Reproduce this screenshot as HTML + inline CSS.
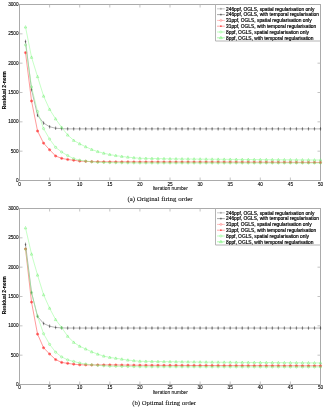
<!DOCTYPE html>
<html><head><meta charset="utf-8"><style>
html,body{margin:0;padding:0;background:#fff;}
body{width:325px;height:407px;overflow:hidden;}
svg{display:block;will-change:transform;}
.t,.lg,.yl{font-family:"Liberation Sans",sans-serif;fill:#000;stroke:#000;stroke-width:0.22px;}
.t{font-size:4.7px;stroke-width:0.1px;}
.lg{font-size:4.85px;stroke-width:0.18px;}
.yl{font-size:4.86px;font-weight:bold;stroke-width:0.1px;}
.xl{font-family:"Liberation Sans",sans-serif;fill:#000;stroke:#000;stroke-width:0.05px;font-size:4.85px;}
.cap{font-family:"Liberation Serif",serif;font-size:6.85px;fill:#000;stroke:#000;stroke-width:0.05px;}
</style></head><body>
<svg width="325" height="407" viewBox="0 0 325 407">
<rect width="325" height="407" fill="#fff"/>
<rect x="19.5" y="4.5" width="301.00" height="176.00" fill="none" stroke="#ababab" stroke-width="1"/>
<text x="19.50" y="185.50" class="t" text-anchor="middle">0</text>
<line x1="49.60" y1="180.5" x2="49.60" y2="177.5" stroke="#b4b4b4" stroke-width="0.8"/>
<line x1="49.60" y1="4.5" x2="49.60" y2="7.5" stroke="#b4b4b4" stroke-width="0.8"/>
<text x="49.60" y="185.50" class="t" text-anchor="middle">5</text>
<line x1="79.70" y1="180.5" x2="79.70" y2="177.5" stroke="#b4b4b4" stroke-width="0.8"/>
<line x1="79.70" y1="4.5" x2="79.70" y2="7.5" stroke="#b4b4b4" stroke-width="0.8"/>
<text x="79.70" y="185.50" class="t" text-anchor="middle">10</text>
<line x1="109.80" y1="180.5" x2="109.80" y2="177.5" stroke="#b4b4b4" stroke-width="0.8"/>
<line x1="109.80" y1="4.5" x2="109.80" y2="7.5" stroke="#b4b4b4" stroke-width="0.8"/>
<text x="109.80" y="185.50" class="t" text-anchor="middle">15</text>
<line x1="139.90" y1="180.5" x2="139.90" y2="177.5" stroke="#b4b4b4" stroke-width="0.8"/>
<line x1="139.90" y1="4.5" x2="139.90" y2="7.5" stroke="#b4b4b4" stroke-width="0.8"/>
<text x="139.90" y="185.50" class="t" text-anchor="middle">20</text>
<line x1="170.00" y1="180.5" x2="170.00" y2="177.5" stroke="#b4b4b4" stroke-width="0.8"/>
<line x1="170.00" y1="4.5" x2="170.00" y2="7.5" stroke="#b4b4b4" stroke-width="0.8"/>
<text x="170.00" y="185.50" class="t" text-anchor="middle">25</text>
<line x1="200.10" y1="180.5" x2="200.10" y2="177.5" stroke="#b4b4b4" stroke-width="0.8"/>
<line x1="200.10" y1="4.5" x2="200.10" y2="7.5" stroke="#b4b4b4" stroke-width="0.8"/>
<text x="200.10" y="185.50" class="t" text-anchor="middle">30</text>
<line x1="230.20" y1="180.5" x2="230.20" y2="177.5" stroke="#b4b4b4" stroke-width="0.8"/>
<line x1="230.20" y1="4.5" x2="230.20" y2="7.5" stroke="#b4b4b4" stroke-width="0.8"/>
<text x="230.20" y="185.50" class="t" text-anchor="middle">35</text>
<line x1="260.30" y1="180.5" x2="260.30" y2="177.5" stroke="#b4b4b4" stroke-width="0.8"/>
<line x1="260.30" y1="4.5" x2="260.30" y2="7.5" stroke="#b4b4b4" stroke-width="0.8"/>
<text x="260.30" y="185.50" class="t" text-anchor="middle">40</text>
<line x1="290.40" y1="180.5" x2="290.40" y2="177.5" stroke="#b4b4b4" stroke-width="0.8"/>
<line x1="290.40" y1="4.5" x2="290.40" y2="7.5" stroke="#b4b4b4" stroke-width="0.8"/>
<text x="290.40" y="185.50" class="t" text-anchor="middle">45</text>
<text x="320.50" y="185.50" class="t" text-anchor="middle">50</text>
<text x="18.6" y="181.90" class="t" text-anchor="end">0</text>
<line x1="19.5" y1="151.17" x2="22.5" y2="151.17" stroke="#b4b4b4" stroke-width="0.8"/>
<line x1="320.5" y1="151.17" x2="317.5" y2="151.17" stroke="#b4b4b4" stroke-width="0.8"/>
<text x="18.6" y="152.57" class="t" text-anchor="end">500</text>
<line x1="19.5" y1="121.83" x2="22.5" y2="121.83" stroke="#b4b4b4" stroke-width="0.8"/>
<line x1="320.5" y1="121.83" x2="317.5" y2="121.83" stroke="#b4b4b4" stroke-width="0.8"/>
<text x="18.6" y="123.23" class="t" text-anchor="end">1000</text>
<line x1="19.5" y1="92.50" x2="22.5" y2="92.50" stroke="#b4b4b4" stroke-width="0.8"/>
<line x1="320.5" y1="92.50" x2="317.5" y2="92.50" stroke="#b4b4b4" stroke-width="0.8"/>
<text x="18.6" y="93.90" class="t" text-anchor="end">1500</text>
<line x1="19.5" y1="63.17" x2="22.5" y2="63.17" stroke="#b4b4b4" stroke-width="0.8"/>
<line x1="320.5" y1="63.17" x2="317.5" y2="63.17" stroke="#b4b4b4" stroke-width="0.8"/>
<text x="18.6" y="64.57" class="t" text-anchor="end">2000</text>
<line x1="19.5" y1="33.83" x2="22.5" y2="33.83" stroke="#b4b4b4" stroke-width="0.8"/>
<line x1="320.5" y1="33.83" x2="317.5" y2="33.83" stroke="#b4b4b4" stroke-width="0.8"/>
<text x="18.6" y="35.23" class="t" text-anchor="end">2500</text>
<text x="18.6" y="5.90" class="t" text-anchor="end">3000</text>
<text transform="translate(5.9 90.20) rotate(-90)" class="yl" text-anchor="middle">Residual 2-norm</text>
<text x="170.30" y="189.70" class="xl" text-anchor="middle">Iteration number</text>
<text x="127.4" y="201.3" class="cap" style="font-size:6.85px">(a) Original firing order</text>
<polyline points="25.52,41.46 31.54,89.57 37.56,115.32 43.58,123.07 49.60,126.76 55.62,128.23 61.64,128.70 67.66,128.87 73.68,128.87 79.70,128.87 85.72,128.87 91.74,128.87 97.76,128.87 103.78,128.87 109.80,128.87 115.82,128.87 121.84,128.87 127.86,128.87 133.88,128.87 139.90,128.87 145.92,128.87 151.94,128.87 157.96,128.87 163.98,128.87 170.00,128.87 176.02,128.87 182.04,128.87 188.06,128.87 194.08,128.87 200.10,128.87 206.12,128.87 212.14,128.87 218.16,128.87 224.18,128.87 230.20,128.87 236.22,128.87 242.24,128.87 248.26,128.87 254.28,128.87 260.30,128.87 266.32,128.87 272.34,128.87 278.36,128.87 284.38,128.87 290.40,128.87 296.42,128.87 302.44,128.87 308.46,128.87 314.48,128.87 320.50,128.87" fill="none" stroke="#909090" stroke-width="0.65" stroke-linejoin="round"/>
<path d="M24.73 41.46H26.31M25.52 39.71V43.21" stroke="#303030" stroke-width="0.5"/>
<path d="M30.75 89.57H32.33M31.54 87.82V91.32" stroke="#303030" stroke-width="0.5"/>
<path d="M36.77 115.32H38.35M37.56 113.57V117.07" stroke="#303030" stroke-width="0.5"/>
<path d="M42.79 123.07H44.37M43.58 121.32V124.82" stroke="#303030" stroke-width="0.5"/>
<path d="M48.81 126.76H50.39M49.60 125.01V128.51" stroke="#303030" stroke-width="0.5"/>
<path d="M54.83 128.23H56.41M55.62 126.48V129.98" stroke="#303030" stroke-width="0.5"/>
<path d="M60.85 128.70H62.43M61.64 126.95V130.45" stroke="#303030" stroke-width="0.5"/>
<path d="M66.87 128.87H68.45M67.66 127.12V130.62" stroke="#303030" stroke-width="0.5"/>
<path d="M72.89 128.87H74.47M73.68 127.12V130.62" stroke="#303030" stroke-width="0.5"/>
<path d="M78.91 128.87H80.49M79.70 127.12V130.62" stroke="#303030" stroke-width="0.5"/>
<path d="M84.93 128.87H86.51M85.72 127.12V130.62" stroke="#303030" stroke-width="0.5"/>
<path d="M90.95 128.87H92.53M91.74 127.12V130.62" stroke="#303030" stroke-width="0.5"/>
<path d="M96.97 128.87H98.55M97.76 127.12V130.62" stroke="#303030" stroke-width="0.5"/>
<path d="M102.99 128.87H104.57M103.78 127.12V130.62" stroke="#303030" stroke-width="0.5"/>
<path d="M109.01 128.87H110.59M109.80 127.12V130.62" stroke="#303030" stroke-width="0.5"/>
<path d="M115.03 128.87H116.61M115.82 127.12V130.62" stroke="#303030" stroke-width="0.5"/>
<path d="M121.05 128.87H122.63M121.84 127.12V130.62" stroke="#303030" stroke-width="0.5"/>
<path d="M127.07 128.87H128.65M127.86 127.12V130.62" stroke="#303030" stroke-width="0.5"/>
<path d="M133.09 128.87H134.67M133.88 127.12V130.62" stroke="#303030" stroke-width="0.5"/>
<path d="M139.11 128.87H140.69M139.90 127.12V130.62" stroke="#303030" stroke-width="0.5"/>
<path d="M145.13 128.87H146.71M145.92 127.12V130.62" stroke="#303030" stroke-width="0.5"/>
<path d="M151.15 128.87H152.73M151.94 127.12V130.62" stroke="#303030" stroke-width="0.5"/>
<path d="M157.17 128.87H158.75M157.96 127.12V130.62" stroke="#303030" stroke-width="0.5"/>
<path d="M163.19 128.87H164.77M163.98 127.12V130.62" stroke="#303030" stroke-width="0.5"/>
<path d="M169.21 128.87H170.79M170.00 127.12V130.62" stroke="#303030" stroke-width="0.5"/>
<path d="M175.23 128.87H176.81M176.02 127.12V130.62" stroke="#303030" stroke-width="0.5"/>
<path d="M181.25 128.87H182.83M182.04 127.12V130.62" stroke="#303030" stroke-width="0.5"/>
<path d="M187.27 128.87H188.85M188.06 127.12V130.62" stroke="#303030" stroke-width="0.5"/>
<path d="M193.29 128.87H194.87M194.08 127.12V130.62" stroke="#303030" stroke-width="0.5"/>
<path d="M199.31 128.87H200.89M200.10 127.12V130.62" stroke="#303030" stroke-width="0.5"/>
<path d="M205.33 128.87H206.91M206.12 127.12V130.62" stroke="#303030" stroke-width="0.5"/>
<path d="M211.35 128.87H212.93M212.14 127.12V130.62" stroke="#303030" stroke-width="0.5"/>
<path d="M217.37 128.87H218.95M218.16 127.12V130.62" stroke="#303030" stroke-width="0.5"/>
<path d="M223.39 128.87H224.97M224.18 127.12V130.62" stroke="#303030" stroke-width="0.5"/>
<path d="M229.41 128.87H230.99M230.20 127.12V130.62" stroke="#303030" stroke-width="0.5"/>
<path d="M235.43 128.87H237.01M236.22 127.12V130.62" stroke="#303030" stroke-width="0.5"/>
<path d="M241.45 128.87H243.03M242.24 127.12V130.62" stroke="#303030" stroke-width="0.5"/>
<path d="M247.47 128.87H249.05M248.26 127.12V130.62" stroke="#303030" stroke-width="0.5"/>
<path d="M253.49 128.87H255.07M254.28 127.12V130.62" stroke="#303030" stroke-width="0.5"/>
<path d="M259.51 128.87H261.09M260.30 127.12V130.62" stroke="#303030" stroke-width="0.5"/>
<path d="M265.53 128.87H267.11M266.32 127.12V130.62" stroke="#303030" stroke-width="0.5"/>
<path d="M271.55 128.87H273.13M272.34 127.12V130.62" stroke="#303030" stroke-width="0.5"/>
<path d="M277.57 128.87H279.15M278.36 127.12V130.62" stroke="#303030" stroke-width="0.5"/>
<path d="M283.59 128.87H285.17M284.38 127.12V130.62" stroke="#303030" stroke-width="0.5"/>
<path d="M289.61 128.87H291.19M290.40 127.12V130.62" stroke="#303030" stroke-width="0.5"/>
<path d="M295.63 128.87H297.21M296.42 127.12V130.62" stroke="#303030" stroke-width="0.5"/>
<path d="M301.65 128.87H303.23M302.44 127.12V130.62" stroke="#303030" stroke-width="0.5"/>
<path d="M307.67 128.87H309.25M308.46 127.12V130.62" stroke="#303030" stroke-width="0.5"/>
<path d="M313.69 128.87H315.27M314.48 127.12V130.62" stroke="#303030" stroke-width="0.5"/>
<path d="M319.71 128.87H321.29M320.50 127.12V130.62" stroke="#303030" stroke-width="0.5"/>
<polyline points="25.52,52.61 31.54,101.01 37.56,131.04 43.58,143.19 49.60,149.76 55.62,155.98 61.64,158.38 67.66,159.50 73.68,160.26 79.70,161.08 85.72,161.35 91.74,161.61 97.76,161.69 103.78,161.77 109.80,161.84 115.82,161.86 121.84,161.87 127.86,161.88 133.88,161.89 139.90,161.90 145.92,161.91 151.94,161.92 157.96,161.93 163.98,161.94 170.00,161.95 176.02,161.96 182.04,161.97 188.06,161.98 194.08,161.99 200.10,162.00 206.12,162.01 212.14,162.02 218.16,162.04 224.18,162.07 230.20,162.09 236.22,162.11 242.24,162.13 248.26,162.16 254.28,162.18 260.30,162.20 266.32,162.23 272.34,162.25 278.36,162.27 284.38,162.29 290.40,162.32 296.42,162.34 302.44,162.36 308.46,162.39 314.48,162.41 320.50,162.43" fill="none" stroke="#ff5858" stroke-width="0.6" stroke-linejoin="round"/>
<circle cx="25.52" cy="52.61" r="1.1" fill="none" stroke="#ff3030" stroke-width="0.5"/>
<path d="M24.53 52.61H26.51M25.52 51.62V53.60M24.83 51.91L26.21 53.30M24.83 53.30L26.21 51.91" stroke="#ff3030" stroke-width="0.4"/>
<circle cx="31.54" cy="101.01" r="1.1" fill="none" stroke="#ff3030" stroke-width="0.5"/>
<path d="M30.55 101.01H32.53M31.54 100.02V102.00M30.85 100.31L32.23 101.70M30.85 101.70L32.23 100.31" stroke="#ff3030" stroke-width="0.4"/>
<circle cx="37.56" cy="131.04" r="1.1" fill="none" stroke="#ff3030" stroke-width="0.5"/>
<path d="M36.57 131.04H38.55M37.56 130.05V132.03M36.87 130.35L38.25 131.74M36.87 131.74L38.25 130.35" stroke="#ff3030" stroke-width="0.4"/>
<circle cx="43.58" cy="143.19" r="1.1" fill="none" stroke="#ff3030" stroke-width="0.5"/>
<path d="M42.59 143.19H44.57M43.58 142.20V144.18M42.89 142.49L44.27 143.88M42.89 143.88L44.27 142.49" stroke="#ff3030" stroke-width="0.4"/>
<circle cx="49.60" cy="149.76" r="1.1" fill="none" stroke="#ff3030" stroke-width="0.5"/>
<path d="M48.61 149.76H50.59M49.60 148.77V150.75M48.91 149.07L50.29 150.45M48.91 150.45L50.29 149.07" stroke="#ff3030" stroke-width="0.4"/>
<circle cx="55.62" cy="155.98" r="1.1" fill="none" stroke="#ff3030" stroke-width="0.5"/>
<path d="M54.63 155.98H56.61M55.62 154.99V156.97M54.93 155.28L56.31 156.67M54.93 156.67L56.31 155.28" stroke="#ff3030" stroke-width="0.4"/>
<circle cx="61.64" cy="158.38" r="1.1" fill="none" stroke="#ff3030" stroke-width="0.5"/>
<path d="M60.65 158.38H62.63M61.64 157.39V159.37M60.95 157.69L62.33 159.08M60.95 159.08L62.33 157.69" stroke="#ff3030" stroke-width="0.4"/>
<circle cx="67.66" cy="159.50" r="1.1" fill="none" stroke="#ff3030" stroke-width="0.5"/>
<path d="M66.67 159.50H68.65M67.66 158.51V160.49M66.97 158.80L68.35 160.19M66.97 160.19L68.35 158.80" stroke="#ff3030" stroke-width="0.4"/>
<circle cx="73.68" cy="160.26" r="1.1" fill="none" stroke="#ff3030" stroke-width="0.5"/>
<path d="M72.69 160.26H74.67M73.68 159.27V161.25M72.99 159.57L74.37 160.95M72.99 160.95L74.37 159.57" stroke="#ff3030" stroke-width="0.4"/>
<circle cx="79.70" cy="161.08" r="1.1" fill="none" stroke="#ff3030" stroke-width="0.5"/>
<path d="M78.71 161.08H80.69M79.70 160.09V162.07M79.01 160.39L80.39 161.77M79.01 161.77L80.39 160.39" stroke="#ff3030" stroke-width="0.4"/>
<circle cx="85.72" cy="161.35" r="1.1" fill="none" stroke="#ff3030" stroke-width="0.5"/>
<path d="M84.73 161.35H86.71M85.72 160.36V162.34M85.03 160.65L86.41 162.04M85.03 162.04L86.41 160.65" stroke="#ff3030" stroke-width="0.4"/>
<circle cx="91.74" cy="161.61" r="1.1" fill="none" stroke="#ff3030" stroke-width="0.5"/>
<path d="M90.75 161.61H92.73M91.74 160.62V162.60M91.05 160.92L92.43 162.30M91.05 162.30L92.43 160.92" stroke="#ff3030" stroke-width="0.4"/>
<circle cx="97.76" cy="161.69" r="1.1" fill="none" stroke="#ff3030" stroke-width="0.5"/>
<path d="M96.77 161.69H98.75M97.76 160.70V162.68M97.07 160.99L98.45 162.38M97.07 162.38L98.45 160.99" stroke="#ff3030" stroke-width="0.4"/>
<circle cx="103.78" cy="161.77" r="1.1" fill="none" stroke="#ff3030" stroke-width="0.5"/>
<path d="M102.79 161.77H104.77M103.78 160.78V162.76M103.09 161.07L104.47 162.46M103.09 162.46L104.47 161.07" stroke="#ff3030" stroke-width="0.4"/>
<circle cx="109.80" cy="161.84" r="1.1" fill="none" stroke="#ff3030" stroke-width="0.5"/>
<path d="M108.81 161.84H110.79M109.80 160.85V162.83M109.11 161.15L110.49 162.54M109.11 162.54L110.49 161.15" stroke="#ff3030" stroke-width="0.4"/>
<circle cx="115.82" cy="161.86" r="1.1" fill="none" stroke="#ff3030" stroke-width="0.5"/>
<path d="M114.83 161.86H116.81M115.82 160.87V162.85M115.13 161.16L116.51 162.55M115.13 162.55L116.51 161.16" stroke="#ff3030" stroke-width="0.4"/>
<circle cx="121.84" cy="161.87" r="1.1" fill="none" stroke="#ff3030" stroke-width="0.5"/>
<path d="M120.85 161.87H122.83M121.84 160.88V162.86M121.15 161.17L122.53 162.56M121.15 162.56L122.53 161.17" stroke="#ff3030" stroke-width="0.4"/>
<circle cx="127.86" cy="161.88" r="1.1" fill="none" stroke="#ff3030" stroke-width="0.5"/>
<path d="M126.87 161.88H128.85M127.86 160.89V162.87M127.17 161.19L128.55 162.57M127.17 162.57L128.55 161.19" stroke="#ff3030" stroke-width="0.4"/>
<circle cx="133.88" cy="161.89" r="1.1" fill="none" stroke="#ff3030" stroke-width="0.5"/>
<path d="M132.89 161.89H134.87M133.88 160.90V162.88M133.19 161.20L134.57 162.58M133.19 162.58L134.57 161.20" stroke="#ff3030" stroke-width="0.4"/>
<circle cx="139.90" cy="161.90" r="1.1" fill="none" stroke="#ff3030" stroke-width="0.5"/>
<path d="M138.91 161.90H140.89M139.90 160.91V162.89M139.21 161.21L140.59 162.60M139.21 162.60L140.59 161.21" stroke="#ff3030" stroke-width="0.4"/>
<circle cx="145.92" cy="161.91" r="1.1" fill="none" stroke="#ff3030" stroke-width="0.5"/>
<path d="M144.93 161.91H146.91M145.92 160.92V162.90M145.23 161.22L146.61 162.61M145.23 162.61L146.61 161.22" stroke="#ff3030" stroke-width="0.4"/>
<circle cx="151.94" cy="161.92" r="1.1" fill="none" stroke="#ff3030" stroke-width="0.5"/>
<path d="M150.95 161.92H152.93M151.94 160.93V162.91M151.25 161.23L152.63 162.62M151.25 162.62L152.63 161.23" stroke="#ff3030" stroke-width="0.4"/>
<circle cx="157.96" cy="161.93" r="1.1" fill="none" stroke="#ff3030" stroke-width="0.5"/>
<path d="M156.97 161.93H158.95M157.96 160.94V162.92M157.27 161.24L158.65 162.62M157.27 162.62L158.65 161.24" stroke="#ff3030" stroke-width="0.4"/>
<circle cx="163.98" cy="161.94" r="1.1" fill="none" stroke="#ff3030" stroke-width="0.5"/>
<path d="M162.99 161.94H164.97M163.98 160.95V162.93M163.29 161.25L164.67 162.63M163.29 162.63L164.67 161.25" stroke="#ff3030" stroke-width="0.4"/>
<circle cx="170.00" cy="161.95" r="1.1" fill="none" stroke="#ff3030" stroke-width="0.5"/>
<path d="M169.01 161.95H170.99M170.00 160.96V162.94M169.31 161.26L170.69 162.64M169.31 162.64L170.69 161.26" stroke="#ff3030" stroke-width="0.4"/>
<circle cx="176.02" cy="161.96" r="1.1" fill="none" stroke="#ff3030" stroke-width="0.5"/>
<path d="M175.03 161.96H177.01M176.02 160.97V162.95M175.33 161.27L176.71 162.65M175.33 162.65L176.71 161.27" stroke="#ff3030" stroke-width="0.4"/>
<circle cx="182.04" cy="161.97" r="1.1" fill="none" stroke="#ff3030" stroke-width="0.5"/>
<path d="M181.05 161.97H183.03M182.04 160.98V162.96M181.35 161.28L182.73 162.66M181.35 162.66L182.73 161.28" stroke="#ff3030" stroke-width="0.4"/>
<circle cx="188.06" cy="161.98" r="1.1" fill="none" stroke="#ff3030" stroke-width="0.5"/>
<path d="M187.07 161.98H189.05M188.06 160.99V162.97M187.37 161.29L188.75 162.67M187.37 162.67L188.75 161.29" stroke="#ff3030" stroke-width="0.4"/>
<circle cx="194.08" cy="161.99" r="1.1" fill="none" stroke="#ff3030" stroke-width="0.5"/>
<path d="M193.09 161.99H195.07M194.08 161.00V162.98M193.39 161.30L194.77 162.68M193.39 162.68L194.77 161.30" stroke="#ff3030" stroke-width="0.4"/>
<circle cx="200.10" cy="162.00" r="1.1" fill="none" stroke="#ff3030" stroke-width="0.5"/>
<path d="M199.11 162.00H201.09M200.10 161.01V162.99M199.41 161.31L200.79 162.69M199.41 162.69L200.79 161.31" stroke="#ff3030" stroke-width="0.4"/>
<circle cx="206.12" cy="162.01" r="1.1" fill="none" stroke="#ff3030" stroke-width="0.5"/>
<path d="M205.13 162.01H207.11M206.12 161.02V163.00M205.43 161.32L206.81 162.70M205.43 162.70L206.81 161.32" stroke="#ff3030" stroke-width="0.4"/>
<circle cx="212.14" cy="162.02" r="1.1" fill="none" stroke="#ff3030" stroke-width="0.5"/>
<path d="M211.15 162.02H213.13M212.14 161.03V163.01M211.45 161.33L212.83 162.71M211.45 162.71L212.83 161.33" stroke="#ff3030" stroke-width="0.4"/>
<circle cx="218.16" cy="162.04" r="1.1" fill="none" stroke="#ff3030" stroke-width="0.5"/>
<path d="M217.17 162.04H219.15M218.16 161.05V163.03M217.47 161.35L218.85 162.74M217.47 162.74L218.85 161.35" stroke="#ff3030" stroke-width="0.4"/>
<circle cx="224.18" cy="162.07" r="1.1" fill="none" stroke="#ff3030" stroke-width="0.5"/>
<path d="M223.19 162.07H225.17M224.18 161.08V163.06M223.49 161.37L224.87 162.76M223.49 162.76L224.87 161.37" stroke="#ff3030" stroke-width="0.4"/>
<circle cx="230.20" cy="162.09" r="1.1" fill="none" stroke="#ff3030" stroke-width="0.5"/>
<path d="M229.21 162.09H231.19M230.20 161.10V163.08M229.51 161.40L230.89 162.78M229.51 162.78L230.89 161.40" stroke="#ff3030" stroke-width="0.4"/>
<circle cx="236.22" cy="162.11" r="1.1" fill="none" stroke="#ff3030" stroke-width="0.5"/>
<path d="M235.23 162.11H237.21M236.22 161.12V163.10M235.53 161.42L236.91 162.80M235.53 162.80L236.91 161.42" stroke="#ff3030" stroke-width="0.4"/>
<circle cx="242.24" cy="162.13" r="1.1" fill="none" stroke="#ff3030" stroke-width="0.5"/>
<path d="M241.25 162.13H243.23M242.24 161.14V163.12M241.55 161.44L242.93 162.83M241.55 162.83L242.93 161.44" stroke="#ff3030" stroke-width="0.4"/>
<circle cx="248.26" cy="162.16" r="1.1" fill="none" stroke="#ff3030" stroke-width="0.5"/>
<path d="M247.27 162.16H249.25M248.26 161.17V163.15M247.57 161.46L248.95 162.85M247.57 162.85L248.95 161.46" stroke="#ff3030" stroke-width="0.4"/>
<circle cx="254.28" cy="162.18" r="1.1" fill="none" stroke="#ff3030" stroke-width="0.5"/>
<path d="M253.29 162.18H255.27M254.28 161.19V163.17M253.59 161.49L254.97 162.87M253.59 162.87L254.97 161.49" stroke="#ff3030" stroke-width="0.4"/>
<circle cx="260.30" cy="162.20" r="1.1" fill="none" stroke="#ff3030" stroke-width="0.5"/>
<path d="M259.31 162.20H261.29M260.30 161.21V163.19M259.61 161.51L260.99 162.90M259.61 162.90L260.99 161.51" stroke="#ff3030" stroke-width="0.4"/>
<circle cx="266.32" cy="162.23" r="1.1" fill="none" stroke="#ff3030" stroke-width="0.5"/>
<path d="M265.33 162.23H267.31M266.32 161.24V163.22M265.63 161.53L267.01 162.92M265.63 162.92L267.01 161.53" stroke="#ff3030" stroke-width="0.4"/>
<circle cx="272.34" cy="162.25" r="1.1" fill="none" stroke="#ff3030" stroke-width="0.5"/>
<path d="M271.35 162.25H273.33M272.34 161.26V163.24M271.65 161.56L273.03 162.94M271.65 162.94L273.03 161.56" stroke="#ff3030" stroke-width="0.4"/>
<circle cx="278.36" cy="162.27" r="1.1" fill="none" stroke="#ff3030" stroke-width="0.5"/>
<path d="M277.37 162.27H279.35M278.36 161.28V163.26M277.67 161.58L279.05 162.96M277.67 162.96L279.05 161.58" stroke="#ff3030" stroke-width="0.4"/>
<circle cx="284.38" cy="162.29" r="1.1" fill="none" stroke="#ff3030" stroke-width="0.5"/>
<path d="M283.39 162.29H285.37M284.38 161.30V163.28M283.69 161.60L285.07 162.99M283.69 162.99L285.07 161.60" stroke="#ff3030" stroke-width="0.4"/>
<circle cx="290.40" cy="162.32" r="1.1" fill="none" stroke="#ff3030" stroke-width="0.5"/>
<path d="M289.41 162.32H291.39M290.40 161.33V163.31M289.71 161.62L291.09 163.01M289.71 163.01L291.09 161.62" stroke="#ff3030" stroke-width="0.4"/>
<circle cx="296.42" cy="162.34" r="1.1" fill="none" stroke="#ff3030" stroke-width="0.5"/>
<path d="M295.43 162.34H297.41M296.42 161.35V163.33M295.73 161.65L297.11 163.03M295.73 163.03L297.11 161.65" stroke="#ff3030" stroke-width="0.4"/>
<circle cx="302.44" cy="162.36" r="1.1" fill="none" stroke="#ff3030" stroke-width="0.5"/>
<path d="M301.45 162.36H303.43M302.44 161.37V163.35M301.75 161.67L303.13 163.06M301.75 163.06L303.13 161.67" stroke="#ff3030" stroke-width="0.4"/>
<circle cx="308.46" cy="162.39" r="1.1" fill="none" stroke="#ff3030" stroke-width="0.5"/>
<path d="M307.47 162.39H309.45M308.46 161.40V163.38M307.77 161.69L309.15 163.08M307.77 163.08L309.15 161.69" stroke="#ff3030" stroke-width="0.4"/>
<circle cx="314.48" cy="162.41" r="1.1" fill="none" stroke="#ff3030" stroke-width="0.5"/>
<path d="M313.49 162.41H315.47M314.48 161.42V163.40M313.79 161.71L315.17 163.10M313.79 163.10L315.17 161.71" stroke="#ff3030" stroke-width="0.4"/>
<circle cx="320.50" cy="162.43" r="1.1" fill="none" stroke="#ff3030" stroke-width="0.5"/>
<path d="M319.51 162.43H321.49M320.50 161.44V163.42M319.81 161.74L321.19 163.12M319.81 163.12L321.19 161.74" stroke="#ff3030" stroke-width="0.4"/>
<polyline points="25.52,44.92 31.54,86.93 37.56,111.51 43.58,128.64 49.60,139.08 55.62,147.35 61.64,152.05 67.66,155.57 73.68,158.68 79.70,160.20 85.72,161.14 91.74,161.84 97.76,162.31 103.78,162.49 109.80,162.67 115.82,162.72 121.84,162.78 127.86,162.84 133.88,162.90 139.90,162.96 145.92,162.96 151.94,162.96 157.96,162.96 163.98,162.97 170.00,162.97 176.02,162.97 182.04,162.97 188.06,162.97 194.08,162.98 200.10,162.98 206.12,162.98 212.14,162.98 218.16,162.98 224.18,162.99 230.20,162.99 236.22,162.99 242.24,162.99 248.26,162.99 254.28,163.00 260.30,163.00 266.32,163.00 272.34,163.00 278.36,163.00 284.38,163.01 290.40,163.01 296.42,163.01 302.44,163.01 308.46,163.01 314.48,163.02 320.50,163.02" fill="none" stroke="#8cff8c" stroke-width="0.5" stroke-linejoin="round"/>
<circle cx="25.52" cy="44.92" r="1.1" fill="none" stroke="#66ee66" stroke-width="0.45"/>
<circle cx="31.54" cy="86.93" r="1.1" fill="none" stroke="#66ee66" stroke-width="0.45"/>
<circle cx="37.56" cy="111.51" r="1.1" fill="none" stroke="#66ee66" stroke-width="0.45"/>
<circle cx="43.58" cy="128.64" r="1.1" fill="none" stroke="#66ee66" stroke-width="0.45"/>
<circle cx="49.60" cy="139.08" r="1.1" fill="none" stroke="#66ee66" stroke-width="0.45"/>
<circle cx="55.62" cy="147.35" r="1.1" fill="none" stroke="#66ee66" stroke-width="0.45"/>
<circle cx="61.64" cy="152.05" r="1.1" fill="none" stroke="#66ee66" stroke-width="0.45"/>
<circle cx="67.66" cy="155.57" r="1.1" fill="none" stroke="#66ee66" stroke-width="0.45"/>
<circle cx="73.68" cy="158.68" r="1.1" fill="none" stroke="#66ee66" stroke-width="0.45"/>
<circle cx="79.70" cy="160.20" r="1.1" fill="none" stroke="#66ee66" stroke-width="0.45"/>
<circle cx="85.72" cy="161.14" r="1.1" fill="none" stroke="#66ee66" stroke-width="0.45"/>
<circle cx="91.74" cy="161.84" r="1.1" fill="none" stroke="#66ee66" stroke-width="0.45"/>
<circle cx="97.76" cy="162.31" r="1.1" fill="none" stroke="#66ee66" stroke-width="0.45"/>
<circle cx="103.78" cy="162.49" r="1.1" fill="none" stroke="#66ee66" stroke-width="0.45"/>
<circle cx="109.80" cy="162.67" r="1.1" fill="none" stroke="#66ee66" stroke-width="0.45"/>
<circle cx="115.82" cy="162.72" r="1.1" fill="none" stroke="#66ee66" stroke-width="0.45"/>
<circle cx="121.84" cy="162.78" r="1.1" fill="none" stroke="#66ee66" stroke-width="0.45"/>
<circle cx="127.86" cy="162.84" r="1.1" fill="none" stroke="#66ee66" stroke-width="0.45"/>
<circle cx="133.88" cy="162.90" r="1.1" fill="none" stroke="#66ee66" stroke-width="0.45"/>
<circle cx="139.90" cy="162.96" r="1.1" fill="none" stroke="#66ee66" stroke-width="0.45"/>
<circle cx="145.92" cy="162.96" r="1.1" fill="none" stroke="#66ee66" stroke-width="0.45"/>
<circle cx="151.94" cy="162.96" r="1.1" fill="none" stroke="#66ee66" stroke-width="0.45"/>
<circle cx="157.96" cy="162.96" r="1.1" fill="none" stroke="#66ee66" stroke-width="0.45"/>
<circle cx="163.98" cy="162.97" r="1.1" fill="none" stroke="#66ee66" stroke-width="0.45"/>
<circle cx="170.00" cy="162.97" r="1.1" fill="none" stroke="#66ee66" stroke-width="0.45"/>
<circle cx="176.02" cy="162.97" r="1.1" fill="none" stroke="#66ee66" stroke-width="0.45"/>
<circle cx="182.04" cy="162.97" r="1.1" fill="none" stroke="#66ee66" stroke-width="0.45"/>
<circle cx="188.06" cy="162.97" r="1.1" fill="none" stroke="#66ee66" stroke-width="0.45"/>
<circle cx="194.08" cy="162.98" r="1.1" fill="none" stroke="#66ee66" stroke-width="0.45"/>
<circle cx="200.10" cy="162.98" r="1.1" fill="none" stroke="#66ee66" stroke-width="0.45"/>
<circle cx="206.12" cy="162.98" r="1.1" fill="none" stroke="#66ee66" stroke-width="0.45"/>
<circle cx="212.14" cy="162.98" r="1.1" fill="none" stroke="#66ee66" stroke-width="0.45"/>
<circle cx="218.16" cy="162.98" r="1.1" fill="none" stroke="#66ee66" stroke-width="0.45"/>
<circle cx="224.18" cy="162.99" r="1.1" fill="none" stroke="#66ee66" stroke-width="0.45"/>
<circle cx="230.20" cy="162.99" r="1.1" fill="none" stroke="#66ee66" stroke-width="0.45"/>
<circle cx="236.22" cy="162.99" r="1.1" fill="none" stroke="#66ee66" stroke-width="0.45"/>
<circle cx="242.24" cy="162.99" r="1.1" fill="none" stroke="#66ee66" stroke-width="0.45"/>
<circle cx="248.26" cy="162.99" r="1.1" fill="none" stroke="#66ee66" stroke-width="0.45"/>
<circle cx="254.28" cy="163.00" r="1.1" fill="none" stroke="#66ee66" stroke-width="0.45"/>
<circle cx="260.30" cy="163.00" r="1.1" fill="none" stroke="#66ee66" stroke-width="0.45"/>
<circle cx="266.32" cy="163.00" r="1.1" fill="none" stroke="#66ee66" stroke-width="0.45"/>
<circle cx="272.34" cy="163.00" r="1.1" fill="none" stroke="#66ee66" stroke-width="0.45"/>
<circle cx="278.36" cy="163.00" r="1.1" fill="none" stroke="#66ee66" stroke-width="0.45"/>
<circle cx="284.38" cy="163.01" r="1.1" fill="none" stroke="#66ee66" stroke-width="0.45"/>
<circle cx="290.40" cy="163.01" r="1.1" fill="none" stroke="#66ee66" stroke-width="0.45"/>
<circle cx="296.42" cy="163.01" r="1.1" fill="none" stroke="#66ee66" stroke-width="0.45"/>
<circle cx="302.44" cy="163.01" r="1.1" fill="none" stroke="#66ee66" stroke-width="0.45"/>
<circle cx="308.46" cy="163.01" r="1.1" fill="none" stroke="#66ee66" stroke-width="0.45"/>
<circle cx="314.48" cy="163.02" r="1.1" fill="none" stroke="#66ee66" stroke-width="0.45"/>
<circle cx="320.50" cy="163.02" r="1.1" fill="none" stroke="#66ee66" stroke-width="0.45"/>
<polyline points="25.52,27.03 31.54,57.30 37.56,76.66 43.58,96.14 49.60,109.34 55.62,118.90 61.64,127.35 67.66,135.03 73.68,140.37 79.70,143.83 85.72,146.77 91.74,149.52 97.76,151.58 103.78,153.22 109.80,154.57 115.82,155.57 121.84,156.45 127.86,157.15 133.88,157.74 139.90,158.27 145.92,158.37 151.94,158.48 157.96,158.58 163.98,158.69 170.00,158.79 176.02,158.85 182.04,158.91 188.06,158.97 194.08,159.03 200.10,159.09 206.12,159.15 212.14,159.20 218.16,159.26 224.18,159.31 230.20,159.36 236.22,159.41 242.24,159.46 248.26,159.51 254.28,159.56 260.30,159.61 266.32,159.66 272.34,159.70 278.36,159.74 284.38,159.78 290.40,159.82 296.42,159.86 302.44,159.90 308.46,159.94 314.48,159.98 320.50,160.03" fill="none" stroke="#8cff8c" stroke-width="0.5" stroke-linejoin="round"/>
<path d="M25.52 25.65L26.77 28.03L24.27 28.03Z" fill="none" stroke="#66ee66" stroke-width="0.45"/>
<path d="M31.54 55.92L32.79 58.30L30.29 58.30Z" fill="none" stroke="#66ee66" stroke-width="0.45"/>
<path d="M37.56 75.28L38.81 77.66L36.31 77.66Z" fill="none" stroke="#66ee66" stroke-width="0.45"/>
<path d="M43.58 94.76L44.83 97.14L42.33 97.14Z" fill="none" stroke="#66ee66" stroke-width="0.45"/>
<path d="M49.60 107.96L50.85 110.34L48.35 110.34Z" fill="none" stroke="#66ee66" stroke-width="0.45"/>
<path d="M55.62 117.53L56.87 119.90L54.37 119.90Z" fill="none" stroke="#66ee66" stroke-width="0.45"/>
<path d="M61.64 125.97L62.89 128.35L60.39 128.35Z" fill="none" stroke="#66ee66" stroke-width="0.45"/>
<path d="M67.66 133.66L68.91 136.03L66.41 136.03Z" fill="none" stroke="#66ee66" stroke-width="0.45"/>
<path d="M73.68 139.00L74.93 141.37L72.43 141.37Z" fill="none" stroke="#66ee66" stroke-width="0.45"/>
<path d="M79.70 142.46L80.95 144.83L78.45 144.83Z" fill="none" stroke="#66ee66" stroke-width="0.45"/>
<path d="M85.72 145.39L86.97 147.77L84.47 147.77Z" fill="none" stroke="#66ee66" stroke-width="0.45"/>
<path d="M91.74 148.15L92.99 150.52L90.49 150.52Z" fill="none" stroke="#66ee66" stroke-width="0.45"/>
<path d="M97.76 150.20L99.01 152.58L96.51 152.58Z" fill="none" stroke="#66ee66" stroke-width="0.45"/>
<path d="M103.78 151.84L105.03 154.22L102.53 154.22Z" fill="none" stroke="#66ee66" stroke-width="0.45"/>
<path d="M109.80 153.19L111.05 155.57L108.55 155.57Z" fill="none" stroke="#66ee66" stroke-width="0.45"/>
<path d="M115.82 154.19L117.07 156.57L114.57 156.57Z" fill="none" stroke="#66ee66" stroke-width="0.45"/>
<path d="M121.84 155.07L123.09 157.45L120.59 157.45Z" fill="none" stroke="#66ee66" stroke-width="0.45"/>
<path d="M127.86 155.78L129.11 158.15L126.61 158.15Z" fill="none" stroke="#66ee66" stroke-width="0.45"/>
<path d="M133.88 156.36L135.13 158.74L132.63 158.74Z" fill="none" stroke="#66ee66" stroke-width="0.45"/>
<path d="M139.90 156.89L141.15 159.27L138.65 159.27Z" fill="none" stroke="#66ee66" stroke-width="0.45"/>
<path d="M145.92 157.00L147.17 159.37L144.67 159.37Z" fill="none" stroke="#66ee66" stroke-width="0.45"/>
<path d="M151.94 157.10L153.19 159.48L150.69 159.48Z" fill="none" stroke="#66ee66" stroke-width="0.45"/>
<path d="M157.96 157.21L159.21 159.58L156.71 159.58Z" fill="none" stroke="#66ee66" stroke-width="0.45"/>
<path d="M163.98 157.31L165.23 159.69L162.73 159.69Z" fill="none" stroke="#66ee66" stroke-width="0.45"/>
<path d="M170.00 157.42L171.25 159.79L168.75 159.79Z" fill="none" stroke="#66ee66" stroke-width="0.45"/>
<path d="M176.02 157.48L177.27 159.85L174.77 159.85Z" fill="none" stroke="#66ee66" stroke-width="0.45"/>
<path d="M182.04 157.54L183.29 159.91L180.79 159.91Z" fill="none" stroke="#66ee66" stroke-width="0.45"/>
<path d="M188.06 157.59L189.31 159.97L186.81 159.97Z" fill="none" stroke="#66ee66" stroke-width="0.45"/>
<path d="M194.08 157.65L195.33 160.03L192.83 160.03Z" fill="none" stroke="#66ee66" stroke-width="0.45"/>
<path d="M200.10 157.71L201.35 160.09L198.85 160.09Z" fill="none" stroke="#66ee66" stroke-width="0.45"/>
<path d="M206.12 157.77L207.37 160.15L204.87 160.15Z" fill="none" stroke="#66ee66" stroke-width="0.45"/>
<path d="M212.14 157.83L213.39 160.20L210.89 160.20Z" fill="none" stroke="#66ee66" stroke-width="0.45"/>
<path d="M218.16 157.88L219.41 160.26L216.91 160.26Z" fill="none" stroke="#66ee66" stroke-width="0.45"/>
<path d="M224.18 157.93L225.43 160.31L222.93 160.31Z" fill="none" stroke="#66ee66" stroke-width="0.45"/>
<path d="M230.20 157.98L231.45 160.36L228.95 160.36Z" fill="none" stroke="#66ee66" stroke-width="0.45"/>
<path d="M236.22 158.03L237.47 160.41L234.97 160.41Z" fill="none" stroke="#66ee66" stroke-width="0.45"/>
<path d="M242.24 158.09L243.49 160.46L240.99 160.46Z" fill="none" stroke="#66ee66" stroke-width="0.45"/>
<path d="M248.26 158.14L249.51 160.51L247.01 160.51Z" fill="none" stroke="#66ee66" stroke-width="0.45"/>
<path d="M254.28 158.19L255.53 160.56L253.03 160.56Z" fill="none" stroke="#66ee66" stroke-width="0.45"/>
<path d="M260.30 158.24L261.55 160.61L259.05 160.61Z" fill="none" stroke="#66ee66" stroke-width="0.45"/>
<path d="M266.32 158.28L267.57 160.66L265.07 160.66Z" fill="none" stroke="#66ee66" stroke-width="0.45"/>
<path d="M272.34 158.32L273.59 160.70L271.09 160.70Z" fill="none" stroke="#66ee66" stroke-width="0.45"/>
<path d="M278.36 158.36L279.61 160.74L277.11 160.74Z" fill="none" stroke="#66ee66" stroke-width="0.45"/>
<path d="M284.38 158.40L285.63 160.78L283.13 160.78Z" fill="none" stroke="#66ee66" stroke-width="0.45"/>
<path d="M290.40 158.44L291.65 160.82L289.15 160.82Z" fill="none" stroke="#66ee66" stroke-width="0.45"/>
<path d="M296.42 158.49L297.67 160.86L295.17 160.86Z" fill="none" stroke="#66ee66" stroke-width="0.45"/>
<path d="M302.44 158.53L303.69 160.90L301.19 160.90Z" fill="none" stroke="#66ee66" stroke-width="0.45"/>
<path d="M308.46 158.57L309.71 160.94L307.21 160.94Z" fill="none" stroke="#66ee66" stroke-width="0.45"/>
<path d="M314.48 158.61L315.73 160.98L313.23 160.98Z" fill="none" stroke="#66ee66" stroke-width="0.45"/>
<path d="M320.50 158.65L321.75 161.03L319.25 161.03Z" fill="none" stroke="#66ee66" stroke-width="0.45"/>
<rect x="215.5" y="5.0" width="104.50" height="36.00" fill="#fff"/>
<path d="M215.5 4.5V41.0H320.5" fill="none" stroke="#b4b4b4" stroke-width="1"/>
<line x1="217" y1="8.80" x2="224.8" y2="8.80" stroke="#909090" stroke-width="0.5"/>
<path d="M219.9 8.80H221.9M220.9 7.80V9.80" stroke="#909090" stroke-width="0.6"/>
<text x="226" y="10.60" class="lg">246ppf, OGLS, spatial regularisation only</text>
<line x1="217" y1="14.60" x2="224.8" y2="14.60" stroke="#505050" stroke-width="0.5"/>
<path d="M219.9 14.60H221.9M220.9 13.60V15.60" stroke="#505050" stroke-width="0.6"/>
<text x="226" y="16.40" class="lg">246ppf, OGLS, with temporal regularisation</text>
<line x1="217" y1="20.40" x2="224.8" y2="20.40" stroke="#ff8080" stroke-width="0.5"/>
<path d="M219.4 20.40L220.9 19.20L222.4 20.40L220.9 21.60Z" fill="none" stroke="#ff8080" stroke-width="0.5"/>
<text x="226" y="22.20" class="lg">31ppf, OGLS, spatial regularisation only</text>
<line x1="217" y1="26.20" x2="224.8" y2="26.20" stroke="#ff5050" stroke-width="0.5"/>
<circle cx="220.9" cy="26.20" r="0.9" fill="#ff5050" stroke="none"/>
<text x="226" y="28.00" class="lg">31ppf, OGLS, with temporal regularisation</text>
<line x1="217" y1="32.00" x2="224.8" y2="32.00" stroke="#80ff80" stroke-width="0.5"/>
<path d="M219.4 32.00L220.9 30.80L222.4 32.00L220.9 33.20Z" fill="none" stroke="#80ff80" stroke-width="0.5"/>
<text x="226" y="33.80" class="lg">8ppf, OGLS, spatial regularisation only</text>
<line x1="217" y1="37.80" x2="224.8" y2="37.80" stroke="#60f060" stroke-width="0.5"/>
<path d="M220.9 36.30L222.3 38.70L219.5 38.70Z" fill="none" stroke="#60f060" stroke-width="0.5"/>
<text x="226" y="39.60" class="lg">8ppf, OGLS, with temporal regularisation</text>
<rect x="19.5" y="208.5" width="301.00" height="176.00" fill="none" stroke="#ababab" stroke-width="1"/>
<text x="19.50" y="388.60" class="t" text-anchor="middle">0</text>
<line x1="49.60" y1="384.5" x2="49.60" y2="381.5" stroke="#b4b4b4" stroke-width="0.8"/>
<line x1="49.60" y1="208.5" x2="49.60" y2="211.5" stroke="#b4b4b4" stroke-width="0.8"/>
<text x="49.60" y="388.60" class="t" text-anchor="middle">5</text>
<line x1="79.70" y1="384.5" x2="79.70" y2="381.5" stroke="#b4b4b4" stroke-width="0.8"/>
<line x1="79.70" y1="208.5" x2="79.70" y2="211.5" stroke="#b4b4b4" stroke-width="0.8"/>
<text x="79.70" y="388.60" class="t" text-anchor="middle">10</text>
<line x1="109.80" y1="384.5" x2="109.80" y2="381.5" stroke="#b4b4b4" stroke-width="0.8"/>
<line x1="109.80" y1="208.5" x2="109.80" y2="211.5" stroke="#b4b4b4" stroke-width="0.8"/>
<text x="109.80" y="388.60" class="t" text-anchor="middle">15</text>
<line x1="139.90" y1="384.5" x2="139.90" y2="381.5" stroke="#b4b4b4" stroke-width="0.8"/>
<line x1="139.90" y1="208.5" x2="139.90" y2="211.5" stroke="#b4b4b4" stroke-width="0.8"/>
<text x="139.90" y="388.60" class="t" text-anchor="middle">20</text>
<line x1="170.00" y1="384.5" x2="170.00" y2="381.5" stroke="#b4b4b4" stroke-width="0.8"/>
<line x1="170.00" y1="208.5" x2="170.00" y2="211.5" stroke="#b4b4b4" stroke-width="0.8"/>
<text x="170.00" y="388.60" class="t" text-anchor="middle">25</text>
<line x1="200.10" y1="384.5" x2="200.10" y2="381.5" stroke="#b4b4b4" stroke-width="0.8"/>
<line x1="200.10" y1="208.5" x2="200.10" y2="211.5" stroke="#b4b4b4" stroke-width="0.8"/>
<text x="200.10" y="388.60" class="t" text-anchor="middle">30</text>
<line x1="230.20" y1="384.5" x2="230.20" y2="381.5" stroke="#b4b4b4" stroke-width="0.8"/>
<line x1="230.20" y1="208.5" x2="230.20" y2="211.5" stroke="#b4b4b4" stroke-width="0.8"/>
<text x="230.20" y="388.60" class="t" text-anchor="middle">35</text>
<line x1="260.30" y1="384.5" x2="260.30" y2="381.5" stroke="#b4b4b4" stroke-width="0.8"/>
<line x1="260.30" y1="208.5" x2="260.30" y2="211.5" stroke="#b4b4b4" stroke-width="0.8"/>
<text x="260.30" y="388.60" class="t" text-anchor="middle">40</text>
<line x1="290.40" y1="384.5" x2="290.40" y2="381.5" stroke="#b4b4b4" stroke-width="0.8"/>
<line x1="290.40" y1="208.5" x2="290.40" y2="211.5" stroke="#b4b4b4" stroke-width="0.8"/>
<text x="290.40" y="388.60" class="t" text-anchor="middle">45</text>
<text x="320.50" y="388.60" class="t" text-anchor="middle">50</text>
<text x="18.6" y="385.90" class="t" text-anchor="end">0</text>
<line x1="19.5" y1="355.17" x2="22.5" y2="355.17" stroke="#b4b4b4" stroke-width="0.8"/>
<line x1="320.5" y1="355.17" x2="317.5" y2="355.17" stroke="#b4b4b4" stroke-width="0.8"/>
<text x="18.6" y="356.57" class="t" text-anchor="end">500</text>
<line x1="19.5" y1="325.83" x2="22.5" y2="325.83" stroke="#b4b4b4" stroke-width="0.8"/>
<line x1="320.5" y1="325.83" x2="317.5" y2="325.83" stroke="#b4b4b4" stroke-width="0.8"/>
<text x="18.6" y="327.23" class="t" text-anchor="end">1000</text>
<line x1="19.5" y1="296.50" x2="22.5" y2="296.50" stroke="#b4b4b4" stroke-width="0.8"/>
<line x1="320.5" y1="296.50" x2="317.5" y2="296.50" stroke="#b4b4b4" stroke-width="0.8"/>
<text x="18.6" y="297.90" class="t" text-anchor="end">1500</text>
<line x1="19.5" y1="267.17" x2="22.5" y2="267.17" stroke="#b4b4b4" stroke-width="0.8"/>
<line x1="320.5" y1="267.17" x2="317.5" y2="267.17" stroke="#b4b4b4" stroke-width="0.8"/>
<text x="18.6" y="268.57" class="t" text-anchor="end">2000</text>
<line x1="19.5" y1="237.83" x2="22.5" y2="237.83" stroke="#b4b4b4" stroke-width="0.8"/>
<line x1="320.5" y1="237.83" x2="317.5" y2="237.83" stroke="#b4b4b4" stroke-width="0.8"/>
<text x="18.6" y="239.23" class="t" text-anchor="end">2500</text>
<text x="18.6" y="209.90" class="t" text-anchor="end">3000</text>
<text transform="translate(5.9 295.20) rotate(-90)" class="yl" text-anchor="middle">Residual 2-norm</text>
<text x="170.30" y="393.70" class="xl" text-anchor="middle">Iteration number</text>
<text x="132.3" y="405.0" class="cap" style="font-size:6.7px">(b) Optimal firing order</text>
<polyline points="25.52,244.40 31.54,292.57 37.56,316.39 43.58,323.49 49.60,326.19 55.62,327.48 61.64,327.89 67.66,328.06 73.68,328.06 79.70,328.06 85.72,328.06 91.74,328.06 97.76,328.06 103.78,328.06 109.80,328.06 115.82,328.06 121.84,328.06 127.86,328.06 133.88,328.06 139.90,328.06 145.92,328.06 151.94,328.06 157.96,328.06 163.98,328.06 170.00,328.06 176.02,328.06 182.04,328.06 188.06,328.06 194.08,328.06 200.10,328.06 206.12,328.06 212.14,328.06 218.16,328.06 224.18,328.06 230.20,328.06 236.22,328.06 242.24,328.06 248.26,328.06 254.28,328.06 260.30,328.06 266.32,328.06 272.34,328.06 278.36,328.06 284.38,328.06 290.40,328.06 296.42,328.06 302.44,328.06 308.46,328.06 314.48,328.06 320.50,328.06" fill="none" stroke="#909090" stroke-width="0.65" stroke-linejoin="round"/>
<path d="M24.73 244.40H26.31M25.52 242.65V246.15" stroke="#303030" stroke-width="0.5"/>
<path d="M30.75 292.57H32.33M31.54 290.82V294.32" stroke="#303030" stroke-width="0.5"/>
<path d="M36.77 316.39H38.35M37.56 314.64V318.14" stroke="#303030" stroke-width="0.5"/>
<path d="M42.79 323.49H44.37M43.58 321.74V325.24" stroke="#303030" stroke-width="0.5"/>
<path d="M48.81 326.19H50.39M49.60 324.44V327.94" stroke="#303030" stroke-width="0.5"/>
<path d="M54.83 327.48H56.41M55.62 325.73V329.23" stroke="#303030" stroke-width="0.5"/>
<path d="M60.85 327.89H62.43M61.64 326.14V329.64" stroke="#303030" stroke-width="0.5"/>
<path d="M66.87 328.06H68.45M67.66 326.31V329.81" stroke="#303030" stroke-width="0.5"/>
<path d="M72.89 328.06H74.47M73.68 326.31V329.81" stroke="#303030" stroke-width="0.5"/>
<path d="M78.91 328.06H80.49M79.70 326.31V329.81" stroke="#303030" stroke-width="0.5"/>
<path d="M84.93 328.06H86.51M85.72 326.31V329.81" stroke="#303030" stroke-width="0.5"/>
<path d="M90.95 328.06H92.53M91.74 326.31V329.81" stroke="#303030" stroke-width="0.5"/>
<path d="M96.97 328.06H98.55M97.76 326.31V329.81" stroke="#303030" stroke-width="0.5"/>
<path d="M102.99 328.06H104.57M103.78 326.31V329.81" stroke="#303030" stroke-width="0.5"/>
<path d="M109.01 328.06H110.59M109.80 326.31V329.81" stroke="#303030" stroke-width="0.5"/>
<path d="M115.03 328.06H116.61M115.82 326.31V329.81" stroke="#303030" stroke-width="0.5"/>
<path d="M121.05 328.06H122.63M121.84 326.31V329.81" stroke="#303030" stroke-width="0.5"/>
<path d="M127.07 328.06H128.65M127.86 326.31V329.81" stroke="#303030" stroke-width="0.5"/>
<path d="M133.09 328.06H134.67M133.88 326.31V329.81" stroke="#303030" stroke-width="0.5"/>
<path d="M139.11 328.06H140.69M139.90 326.31V329.81" stroke="#303030" stroke-width="0.5"/>
<path d="M145.13 328.06H146.71M145.92 326.31V329.81" stroke="#303030" stroke-width="0.5"/>
<path d="M151.15 328.06H152.73M151.94 326.31V329.81" stroke="#303030" stroke-width="0.5"/>
<path d="M157.17 328.06H158.75M157.96 326.31V329.81" stroke="#303030" stroke-width="0.5"/>
<path d="M163.19 328.06H164.77M163.98 326.31V329.81" stroke="#303030" stroke-width="0.5"/>
<path d="M169.21 328.06H170.79M170.00 326.31V329.81" stroke="#303030" stroke-width="0.5"/>
<path d="M175.23 328.06H176.81M176.02 326.31V329.81" stroke="#303030" stroke-width="0.5"/>
<path d="M181.25 328.06H182.83M182.04 326.31V329.81" stroke="#303030" stroke-width="0.5"/>
<path d="M187.27 328.06H188.85M188.06 326.31V329.81" stroke="#303030" stroke-width="0.5"/>
<path d="M193.29 328.06H194.87M194.08 326.31V329.81" stroke="#303030" stroke-width="0.5"/>
<path d="M199.31 328.06H200.89M200.10 326.31V329.81" stroke="#303030" stroke-width="0.5"/>
<path d="M205.33 328.06H206.91M206.12 326.31V329.81" stroke="#303030" stroke-width="0.5"/>
<path d="M211.35 328.06H212.93M212.14 326.31V329.81" stroke="#303030" stroke-width="0.5"/>
<path d="M217.37 328.06H218.95M218.16 326.31V329.81" stroke="#303030" stroke-width="0.5"/>
<path d="M223.39 328.06H224.97M224.18 326.31V329.81" stroke="#303030" stroke-width="0.5"/>
<path d="M229.41 328.06H230.99M230.20 326.31V329.81" stroke="#303030" stroke-width="0.5"/>
<path d="M235.43 328.06H237.01M236.22 326.31V329.81" stroke="#303030" stroke-width="0.5"/>
<path d="M241.45 328.06H243.03M242.24 326.31V329.81" stroke="#303030" stroke-width="0.5"/>
<path d="M247.47 328.06H249.05M248.26 326.31V329.81" stroke="#303030" stroke-width="0.5"/>
<path d="M253.49 328.06H255.07M254.28 326.31V329.81" stroke="#303030" stroke-width="0.5"/>
<path d="M259.51 328.06H261.09M260.30 326.31V329.81" stroke="#303030" stroke-width="0.5"/>
<path d="M265.53 328.06H267.11M266.32 326.31V329.81" stroke="#303030" stroke-width="0.5"/>
<path d="M271.55 328.06H273.13M272.34 326.31V329.81" stroke="#303030" stroke-width="0.5"/>
<path d="M277.57 328.06H279.15M278.36 326.31V329.81" stroke="#303030" stroke-width="0.5"/>
<path d="M283.59 328.06H285.17M284.38 326.31V329.81" stroke="#303030" stroke-width="0.5"/>
<path d="M289.61 328.06H291.19M290.40 326.31V329.81" stroke="#303030" stroke-width="0.5"/>
<path d="M295.63 328.06H297.21M296.42 326.31V329.81" stroke="#303030" stroke-width="0.5"/>
<path d="M301.65 328.06H303.23M302.44 326.31V329.81" stroke="#303030" stroke-width="0.5"/>
<path d="M307.67 328.06H309.25M308.46 326.31V329.81" stroke="#303030" stroke-width="0.5"/>
<path d="M313.69 328.06H315.27M314.48 326.31V329.81" stroke="#303030" stroke-width="0.5"/>
<path d="M319.71 328.06H321.29M320.50 326.31V329.81" stroke="#303030" stroke-width="0.5"/>
<polyline points="25.52,248.98 31.54,302.13 37.56,334.16 43.58,347.77 49.60,353.99 55.62,359.57 61.64,362.44 67.66,363.38 73.68,364.20 79.70,364.79 85.72,364.88 91.74,364.96 97.76,364.94 103.78,364.92 109.80,364.91 115.82,364.98 121.84,365.05 127.86,365.12 133.88,365.19 139.90,365.26 145.92,365.28 151.94,365.31 157.96,365.33 163.98,365.36 170.00,365.38 176.02,365.40 182.04,365.43 188.06,365.45 194.08,365.48 200.10,365.50 206.12,365.53 212.14,365.55 218.16,365.57 224.18,365.58 230.20,365.60 236.22,365.62 242.24,365.63 248.26,365.65 254.28,365.66 260.30,365.68 266.32,365.70 272.34,365.71 278.36,365.73 284.38,365.75 290.40,365.76 296.42,365.78 302.44,365.80 308.46,365.81 314.48,365.83 320.50,365.84" fill="none" stroke="#ff5858" stroke-width="0.6" stroke-linejoin="round"/>
<circle cx="25.52" cy="248.98" r="1.1" fill="none" stroke="#ff3030" stroke-width="0.5"/>
<path d="M24.53 248.98H26.51M25.52 247.99V249.97M24.83 248.29L26.21 249.67M24.83 249.67L26.21 248.29" stroke="#ff3030" stroke-width="0.4"/>
<circle cx="31.54" cy="302.13" r="1.1" fill="none" stroke="#ff3030" stroke-width="0.5"/>
<path d="M30.55 302.13H32.53M31.54 301.14V303.12M30.85 301.44L32.23 302.82M30.85 302.82L32.23 301.44" stroke="#ff3030" stroke-width="0.4"/>
<circle cx="37.56" cy="334.16" r="1.1" fill="none" stroke="#ff3030" stroke-width="0.5"/>
<path d="M36.57 334.16H38.55M37.56 333.17V335.15M36.87 333.47L38.25 334.86M36.87 334.86L38.25 333.47" stroke="#ff3030" stroke-width="0.4"/>
<circle cx="43.58" cy="347.77" r="1.1" fill="none" stroke="#ff3030" stroke-width="0.5"/>
<path d="M42.59 347.77H44.57M43.58 346.78V348.76M42.89 347.08L44.27 348.47M42.89 348.47L44.27 347.08" stroke="#ff3030" stroke-width="0.4"/>
<circle cx="49.60" cy="353.99" r="1.1" fill="none" stroke="#ff3030" stroke-width="0.5"/>
<path d="M48.61 353.99H50.59M49.60 353.00V354.98M48.91 353.30L50.29 354.69M48.91 354.69L50.29 353.30" stroke="#ff3030" stroke-width="0.4"/>
<circle cx="55.62" cy="359.57" r="1.1" fill="none" stroke="#ff3030" stroke-width="0.5"/>
<path d="M54.63 359.57H56.61M55.62 358.58V360.56M54.93 358.87L56.31 360.26M54.93 360.26L56.31 358.87" stroke="#ff3030" stroke-width="0.4"/>
<circle cx="61.64" cy="362.44" r="1.1" fill="none" stroke="#ff3030" stroke-width="0.5"/>
<path d="M60.65 362.44H62.63M61.64 361.45V363.43M60.95 361.75L62.33 363.13M60.95 363.13L62.33 361.75" stroke="#ff3030" stroke-width="0.4"/>
<circle cx="67.66" cy="363.38" r="1.1" fill="none" stroke="#ff3030" stroke-width="0.5"/>
<path d="M66.67 363.38H68.65M67.66 362.39V364.37M66.97 362.69L68.35 364.07M66.97 364.07L68.35 362.69" stroke="#ff3030" stroke-width="0.4"/>
<circle cx="73.68" cy="364.20" r="1.1" fill="none" stroke="#ff3030" stroke-width="0.5"/>
<path d="M72.69 364.20H74.67M73.68 363.21V365.19M72.99 363.51L74.37 364.89M72.99 364.89L74.37 363.51" stroke="#ff3030" stroke-width="0.4"/>
<circle cx="79.70" cy="364.79" r="1.1" fill="none" stroke="#ff3030" stroke-width="0.5"/>
<path d="M78.71 364.79H80.69M79.70 363.80V365.78M79.01 364.10L80.39 365.48M79.01 365.48L80.39 364.10" stroke="#ff3030" stroke-width="0.4"/>
<circle cx="85.72" cy="364.88" r="1.1" fill="none" stroke="#ff3030" stroke-width="0.5"/>
<path d="M84.73 364.88H86.71M85.72 363.89V365.87M85.03 364.18L86.41 365.57M85.03 365.57L86.41 364.18" stroke="#ff3030" stroke-width="0.4"/>
<circle cx="91.74" cy="364.96" r="1.1" fill="none" stroke="#ff3030" stroke-width="0.5"/>
<path d="M90.75 364.96H92.73M91.74 363.97V365.95M91.05 364.27L92.43 365.66M91.05 365.66L92.43 364.27" stroke="#ff3030" stroke-width="0.4"/>
<circle cx="97.76" cy="364.94" r="1.1" fill="none" stroke="#ff3030" stroke-width="0.5"/>
<path d="M96.77 364.94H98.75M97.76 363.95V365.93M97.07 364.25L98.45 365.64M97.07 365.64L98.45 364.25" stroke="#ff3030" stroke-width="0.4"/>
<circle cx="103.78" cy="364.92" r="1.1" fill="none" stroke="#ff3030" stroke-width="0.5"/>
<path d="M102.79 364.92H104.77M103.78 363.93V365.91M103.09 364.23L104.47 365.62M103.09 365.62L104.47 364.23" stroke="#ff3030" stroke-width="0.4"/>
<circle cx="109.80" cy="364.91" r="1.1" fill="none" stroke="#ff3030" stroke-width="0.5"/>
<path d="M108.81 364.91H110.79M109.80 363.92V365.90M109.11 364.21L110.49 365.60M109.11 365.60L110.49 364.21" stroke="#ff3030" stroke-width="0.4"/>
<circle cx="115.82" cy="364.98" r="1.1" fill="none" stroke="#ff3030" stroke-width="0.5"/>
<path d="M114.83 364.98H116.81M115.82 363.99V365.97M115.13 364.28L116.51 365.67M115.13 365.67L116.51 364.28" stroke="#ff3030" stroke-width="0.4"/>
<circle cx="121.84" cy="365.05" r="1.1" fill="none" stroke="#ff3030" stroke-width="0.5"/>
<path d="M120.85 365.05H122.83M121.84 364.06V366.04M121.15 364.35L122.53 365.74M121.15 365.74L122.53 364.35" stroke="#ff3030" stroke-width="0.4"/>
<circle cx="127.86" cy="365.12" r="1.1" fill="none" stroke="#ff3030" stroke-width="0.5"/>
<path d="M126.87 365.12H128.85M127.86 364.13V366.11M127.17 364.42L128.55 365.81M127.17 365.81L128.55 364.42" stroke="#ff3030" stroke-width="0.4"/>
<circle cx="133.88" cy="365.19" r="1.1" fill="none" stroke="#ff3030" stroke-width="0.5"/>
<path d="M132.89 365.19H134.87M133.88 364.20V366.18M133.19 364.49L134.57 365.88M133.19 365.88L134.57 364.49" stroke="#ff3030" stroke-width="0.4"/>
<circle cx="139.90" cy="365.26" r="1.1" fill="none" stroke="#ff3030" stroke-width="0.5"/>
<path d="M138.91 365.26H140.89M139.90 364.27V366.25M139.21 364.56L140.59 365.95M139.21 365.95L140.59 364.56" stroke="#ff3030" stroke-width="0.4"/>
<circle cx="145.92" cy="365.28" r="1.1" fill="none" stroke="#ff3030" stroke-width="0.5"/>
<path d="M144.93 365.28H146.91M145.92 364.29V366.27M145.23 364.59L146.61 365.97M145.23 365.97L146.61 364.59" stroke="#ff3030" stroke-width="0.4"/>
<circle cx="151.94" cy="365.31" r="1.1" fill="none" stroke="#ff3030" stroke-width="0.5"/>
<path d="M150.95 365.31H152.93M151.94 364.32V366.30M151.25 364.61L152.63 366.00M151.25 366.00L152.63 364.61" stroke="#ff3030" stroke-width="0.4"/>
<circle cx="157.96" cy="365.33" r="1.1" fill="none" stroke="#ff3030" stroke-width="0.5"/>
<path d="M156.97 365.33H158.95M157.96 364.34V366.32M157.27 364.64L158.65 366.02M157.27 366.02L158.65 364.64" stroke="#ff3030" stroke-width="0.4"/>
<circle cx="163.98" cy="365.36" r="1.1" fill="none" stroke="#ff3030" stroke-width="0.5"/>
<path d="M162.99 365.36H164.97M163.98 364.37V366.35M163.29 364.66L164.67 366.05M163.29 366.05L164.67 364.66" stroke="#ff3030" stroke-width="0.4"/>
<circle cx="170.00" cy="365.38" r="1.1" fill="none" stroke="#ff3030" stroke-width="0.5"/>
<path d="M169.01 365.38H170.99M170.00 364.39V366.37M169.31 364.69L170.69 366.07M169.31 366.07L170.69 364.69" stroke="#ff3030" stroke-width="0.4"/>
<circle cx="176.02" cy="365.40" r="1.1" fill="none" stroke="#ff3030" stroke-width="0.5"/>
<path d="M175.03 365.40H177.01M176.02 364.41V366.39M175.33 364.71L176.71 366.10M175.33 366.10L176.71 364.71" stroke="#ff3030" stroke-width="0.4"/>
<circle cx="182.04" cy="365.43" r="1.1" fill="none" stroke="#ff3030" stroke-width="0.5"/>
<path d="M181.05 365.43H183.03M182.04 364.44V366.42M181.35 364.74L182.73 366.12M181.35 366.12L182.73 364.74" stroke="#ff3030" stroke-width="0.4"/>
<circle cx="188.06" cy="365.45" r="1.1" fill="none" stroke="#ff3030" stroke-width="0.5"/>
<path d="M187.07 365.45H189.05M188.06 364.46V366.44M187.37 364.76L188.75 366.15M187.37 366.15L188.75 364.76" stroke="#ff3030" stroke-width="0.4"/>
<circle cx="194.08" cy="365.48" r="1.1" fill="none" stroke="#ff3030" stroke-width="0.5"/>
<path d="M193.09 365.48H195.07M194.08 364.49V366.47M193.39 364.78L194.77 366.17M193.39 366.17L194.77 364.78" stroke="#ff3030" stroke-width="0.4"/>
<circle cx="200.10" cy="365.50" r="1.1" fill="none" stroke="#ff3030" stroke-width="0.5"/>
<path d="M199.11 365.50H201.09M200.10 364.51V366.49M199.41 364.81L200.79 366.19M199.41 366.19L200.79 364.81" stroke="#ff3030" stroke-width="0.4"/>
<circle cx="206.12" cy="365.53" r="1.1" fill="none" stroke="#ff3030" stroke-width="0.5"/>
<path d="M205.13 365.53H207.11M206.12 364.54V366.52M205.43 364.83L206.81 366.22M205.43 366.22L206.81 364.83" stroke="#ff3030" stroke-width="0.4"/>
<circle cx="212.14" cy="365.55" r="1.1" fill="none" stroke="#ff3030" stroke-width="0.5"/>
<path d="M211.15 365.55H213.13M212.14 364.56V366.54M211.45 364.86L212.83 366.24M211.45 366.24L212.83 364.86" stroke="#ff3030" stroke-width="0.4"/>
<circle cx="218.16" cy="365.57" r="1.1" fill="none" stroke="#ff3030" stroke-width="0.5"/>
<path d="M217.17 365.57H219.15M218.16 364.58V366.56M217.47 364.87L218.85 366.26M217.47 366.26L218.85 364.87" stroke="#ff3030" stroke-width="0.4"/>
<circle cx="224.18" cy="365.58" r="1.1" fill="none" stroke="#ff3030" stroke-width="0.5"/>
<path d="M223.19 365.58H225.17M224.18 364.59V366.57M223.49 364.89L224.87 366.28M223.49 366.28L224.87 364.89" stroke="#ff3030" stroke-width="0.4"/>
<circle cx="230.20" cy="365.60" r="1.1" fill="none" stroke="#ff3030" stroke-width="0.5"/>
<path d="M229.21 365.60H231.19M230.20 364.61V366.59M229.51 364.91L230.89 366.29M229.51 366.29L230.89 364.91" stroke="#ff3030" stroke-width="0.4"/>
<circle cx="236.22" cy="365.62" r="1.1" fill="none" stroke="#ff3030" stroke-width="0.5"/>
<path d="M235.23 365.62H237.21M236.22 364.63V366.61M235.53 364.92L236.91 366.31M235.53 366.31L236.91 364.92" stroke="#ff3030" stroke-width="0.4"/>
<circle cx="242.24" cy="365.63" r="1.1" fill="none" stroke="#ff3030" stroke-width="0.5"/>
<path d="M241.25 365.63H243.23M242.24 364.64V366.62M241.55 364.94L242.93 366.33M241.55 366.33L242.93 364.94" stroke="#ff3030" stroke-width="0.4"/>
<circle cx="248.26" cy="365.65" r="1.1" fill="none" stroke="#ff3030" stroke-width="0.5"/>
<path d="M247.27 365.65H249.25M248.26 364.66V366.64M247.57 364.96L248.95 366.34M247.57 366.34L248.95 364.96" stroke="#ff3030" stroke-width="0.4"/>
<circle cx="254.28" cy="365.66" r="1.1" fill="none" stroke="#ff3030" stroke-width="0.5"/>
<path d="M253.29 365.66H255.27M254.28 364.67V366.65M253.59 364.97L254.97 366.36M253.59 366.36L254.97 364.97" stroke="#ff3030" stroke-width="0.4"/>
<circle cx="260.30" cy="365.68" r="1.1" fill="none" stroke="#ff3030" stroke-width="0.5"/>
<path d="M259.31 365.68H261.29M260.30 364.69V366.67M259.61 364.99L260.99 366.37M259.61 366.37L260.99 364.99" stroke="#ff3030" stroke-width="0.4"/>
<circle cx="266.32" cy="365.70" r="1.1" fill="none" stroke="#ff3030" stroke-width="0.5"/>
<path d="M265.33 365.70H267.31M266.32 364.71V366.69M265.63 365.00L267.01 366.39M265.63 366.39L267.01 365.00" stroke="#ff3030" stroke-width="0.4"/>
<circle cx="272.34" cy="365.71" r="1.1" fill="none" stroke="#ff3030" stroke-width="0.5"/>
<path d="M271.35 365.71H273.33M272.34 364.72V366.70M271.65 365.02L273.03 366.41M271.65 366.41L273.03 365.02" stroke="#ff3030" stroke-width="0.4"/>
<circle cx="278.36" cy="365.73" r="1.1" fill="none" stroke="#ff3030" stroke-width="0.5"/>
<path d="M277.37 365.73H279.35M278.36 364.74V366.72M277.67 365.04L279.05 366.42M277.67 366.42L279.05 365.04" stroke="#ff3030" stroke-width="0.4"/>
<circle cx="284.38" cy="365.75" r="1.1" fill="none" stroke="#ff3030" stroke-width="0.5"/>
<path d="M283.39 365.75H285.37M284.38 364.76V366.74M283.69 365.05L285.07 366.44M283.69 366.44L285.07 365.05" stroke="#ff3030" stroke-width="0.4"/>
<circle cx="290.40" cy="365.76" r="1.1" fill="none" stroke="#ff3030" stroke-width="0.5"/>
<path d="M289.41 365.76H291.39M290.40 364.77V366.75M289.71 365.07L291.09 366.46M289.71 366.46L291.09 365.07" stroke="#ff3030" stroke-width="0.4"/>
<circle cx="296.42" cy="365.78" r="1.1" fill="none" stroke="#ff3030" stroke-width="0.5"/>
<path d="M295.43 365.78H297.41M296.42 364.79V366.77M295.73 365.09L297.11 366.47M295.73 366.47L297.11 365.09" stroke="#ff3030" stroke-width="0.4"/>
<circle cx="302.44" cy="365.80" r="1.1" fill="none" stroke="#ff3030" stroke-width="0.5"/>
<path d="M301.45 365.80H303.43M302.44 364.81V366.79M301.75 365.10L303.13 366.49M301.75 366.49L303.13 365.10" stroke="#ff3030" stroke-width="0.4"/>
<circle cx="308.46" cy="365.81" r="1.1" fill="none" stroke="#ff3030" stroke-width="0.5"/>
<path d="M307.47 365.81H309.45M308.46 364.82V366.80M307.77 365.12L309.15 366.50M307.77 366.50L309.15 365.12" stroke="#ff3030" stroke-width="0.4"/>
<circle cx="314.48" cy="365.83" r="1.1" fill="none" stroke="#ff3030" stroke-width="0.5"/>
<path d="M313.49 365.83H315.47M314.48 364.84V366.82M313.79 365.13L315.17 366.52M313.79 366.52L315.17 365.13" stroke="#ff3030" stroke-width="0.4"/>
<circle cx="320.50" cy="365.84" r="1.1" fill="none" stroke="#ff3030" stroke-width="0.5"/>
<path d="M319.51 365.84H321.49M320.50 364.85V366.83M319.81 365.15L321.19 366.54M319.81 366.54L321.19 365.15" stroke="#ff3030" stroke-width="0.4"/>
<polyline points="25.52,248.98 31.54,292.57 37.56,316.39 43.58,333.75 49.60,344.37 55.62,352.17 61.64,356.93 67.66,359.86 73.68,361.50 79.70,363.03 85.72,364.08 91.74,364.79 97.76,365.37 103.78,365.79 109.80,366.20 115.82,366.31 121.84,366.43 127.86,366.55 133.88,366.67 139.90,366.78 145.92,366.79 151.94,366.80 157.96,366.81 163.98,366.81 170.00,366.82 176.02,366.83 182.04,366.84 188.06,366.85 194.08,366.85 200.10,366.86 206.12,366.87 212.14,366.88 218.16,366.88 224.18,366.89 230.20,366.90 236.22,366.91 242.24,366.92 248.26,366.92 254.28,366.93 260.30,366.94 266.32,366.95 272.34,366.95 278.36,366.96 284.38,366.97 290.40,366.98 296.42,366.99 302.44,366.99 308.46,367.00 314.48,367.01 320.50,367.02" fill="none" stroke="#8cff8c" stroke-width="0.5" stroke-linejoin="round"/>
<circle cx="25.52" cy="248.98" r="1.1" fill="none" stroke="#66ee66" stroke-width="0.45"/>
<circle cx="31.54" cy="292.57" r="1.1" fill="none" stroke="#66ee66" stroke-width="0.45"/>
<circle cx="37.56" cy="316.39" r="1.1" fill="none" stroke="#66ee66" stroke-width="0.45"/>
<circle cx="43.58" cy="333.75" r="1.1" fill="none" stroke="#66ee66" stroke-width="0.45"/>
<circle cx="49.60" cy="344.37" r="1.1" fill="none" stroke="#66ee66" stroke-width="0.45"/>
<circle cx="55.62" cy="352.17" r="1.1" fill="none" stroke="#66ee66" stroke-width="0.45"/>
<circle cx="61.64" cy="356.93" r="1.1" fill="none" stroke="#66ee66" stroke-width="0.45"/>
<circle cx="67.66" cy="359.86" r="1.1" fill="none" stroke="#66ee66" stroke-width="0.45"/>
<circle cx="73.68" cy="361.50" r="1.1" fill="none" stroke="#66ee66" stroke-width="0.45"/>
<circle cx="79.70" cy="363.03" r="1.1" fill="none" stroke="#66ee66" stroke-width="0.45"/>
<circle cx="85.72" cy="364.08" r="1.1" fill="none" stroke="#66ee66" stroke-width="0.45"/>
<circle cx="91.74" cy="364.79" r="1.1" fill="none" stroke="#66ee66" stroke-width="0.45"/>
<circle cx="97.76" cy="365.37" r="1.1" fill="none" stroke="#66ee66" stroke-width="0.45"/>
<circle cx="103.78" cy="365.79" r="1.1" fill="none" stroke="#66ee66" stroke-width="0.45"/>
<circle cx="109.80" cy="366.20" r="1.1" fill="none" stroke="#66ee66" stroke-width="0.45"/>
<circle cx="115.82" cy="366.31" r="1.1" fill="none" stroke="#66ee66" stroke-width="0.45"/>
<circle cx="121.84" cy="366.43" r="1.1" fill="none" stroke="#66ee66" stroke-width="0.45"/>
<circle cx="127.86" cy="366.55" r="1.1" fill="none" stroke="#66ee66" stroke-width="0.45"/>
<circle cx="133.88" cy="366.67" r="1.1" fill="none" stroke="#66ee66" stroke-width="0.45"/>
<circle cx="139.90" cy="366.78" r="1.1" fill="none" stroke="#66ee66" stroke-width="0.45"/>
<circle cx="145.92" cy="366.79" r="1.1" fill="none" stroke="#66ee66" stroke-width="0.45"/>
<circle cx="151.94" cy="366.80" r="1.1" fill="none" stroke="#66ee66" stroke-width="0.45"/>
<circle cx="157.96" cy="366.81" r="1.1" fill="none" stroke="#66ee66" stroke-width="0.45"/>
<circle cx="163.98" cy="366.81" r="1.1" fill="none" stroke="#66ee66" stroke-width="0.45"/>
<circle cx="170.00" cy="366.82" r="1.1" fill="none" stroke="#66ee66" stroke-width="0.45"/>
<circle cx="176.02" cy="366.83" r="1.1" fill="none" stroke="#66ee66" stroke-width="0.45"/>
<circle cx="182.04" cy="366.84" r="1.1" fill="none" stroke="#66ee66" stroke-width="0.45"/>
<circle cx="188.06" cy="366.85" r="1.1" fill="none" stroke="#66ee66" stroke-width="0.45"/>
<circle cx="194.08" cy="366.85" r="1.1" fill="none" stroke="#66ee66" stroke-width="0.45"/>
<circle cx="200.10" cy="366.86" r="1.1" fill="none" stroke="#66ee66" stroke-width="0.45"/>
<circle cx="206.12" cy="366.87" r="1.1" fill="none" stroke="#66ee66" stroke-width="0.45"/>
<circle cx="212.14" cy="366.88" r="1.1" fill="none" stroke="#66ee66" stroke-width="0.45"/>
<circle cx="218.16" cy="366.88" r="1.1" fill="none" stroke="#66ee66" stroke-width="0.45"/>
<circle cx="224.18" cy="366.89" r="1.1" fill="none" stroke="#66ee66" stroke-width="0.45"/>
<circle cx="230.20" cy="366.90" r="1.1" fill="none" stroke="#66ee66" stroke-width="0.45"/>
<circle cx="236.22" cy="366.91" r="1.1" fill="none" stroke="#66ee66" stroke-width="0.45"/>
<circle cx="242.24" cy="366.92" r="1.1" fill="none" stroke="#66ee66" stroke-width="0.45"/>
<circle cx="248.26" cy="366.92" r="1.1" fill="none" stroke="#66ee66" stroke-width="0.45"/>
<circle cx="254.28" cy="366.93" r="1.1" fill="none" stroke="#66ee66" stroke-width="0.45"/>
<circle cx="260.30" cy="366.94" r="1.1" fill="none" stroke="#66ee66" stroke-width="0.45"/>
<circle cx="266.32" cy="366.95" r="1.1" fill="none" stroke="#66ee66" stroke-width="0.45"/>
<circle cx="272.34" cy="366.95" r="1.1" fill="none" stroke="#66ee66" stroke-width="0.45"/>
<circle cx="278.36" cy="366.96" r="1.1" fill="none" stroke="#66ee66" stroke-width="0.45"/>
<circle cx="284.38" cy="366.97" r="1.1" fill="none" stroke="#66ee66" stroke-width="0.45"/>
<circle cx="290.40" cy="366.98" r="1.1" fill="none" stroke="#66ee66" stroke-width="0.45"/>
<circle cx="296.42" cy="366.99" r="1.1" fill="none" stroke="#66ee66" stroke-width="0.45"/>
<circle cx="302.44" cy="366.99" r="1.1" fill="none" stroke="#66ee66" stroke-width="0.45"/>
<circle cx="308.46" cy="367.00" r="1.1" fill="none" stroke="#66ee66" stroke-width="0.45"/>
<circle cx="314.48" cy="367.01" r="1.1" fill="none" stroke="#66ee66" stroke-width="0.45"/>
<circle cx="320.50" cy="367.02" r="1.1" fill="none" stroke="#66ee66" stroke-width="0.45"/>
<polyline points="25.52,227.86 31.54,254.14 37.56,275.09 43.58,294.80 49.60,308.23 55.62,319.61 61.64,327.48 67.66,336.28 73.68,342.32 79.70,346.25 85.72,349.01 91.74,351.82 97.76,354.17 103.78,356.11 109.80,357.40 115.82,358.28 121.84,359.16 127.86,360.09 133.88,360.68 139.90,361.27 145.92,361.36 151.94,361.44 157.96,361.53 163.98,361.62 170.00,361.69 176.02,361.75 182.04,361.82 188.06,361.88 194.08,361.95 200.10,362.02 206.12,362.08 212.14,362.15 218.16,362.19 224.18,362.24 230.20,362.28 236.22,362.32 242.24,362.37 248.26,362.41 254.28,362.46 260.30,362.50 266.32,362.54 272.34,362.58 278.36,362.62 284.38,362.66 290.40,362.71 296.42,362.75 302.44,362.79 308.46,362.83 314.48,362.87 320.50,362.91" fill="none" stroke="#8cff8c" stroke-width="0.5" stroke-linejoin="round"/>
<path d="M25.52 226.49L26.77 228.86L24.27 228.86Z" fill="none" stroke="#66ee66" stroke-width="0.45"/>
<path d="M31.54 252.77L32.79 255.14L30.29 255.14Z" fill="none" stroke="#66ee66" stroke-width="0.45"/>
<path d="M37.56 273.71L38.81 276.09L36.31 276.09Z" fill="none" stroke="#66ee66" stroke-width="0.45"/>
<path d="M43.58 293.42L44.83 295.80L42.33 295.80Z" fill="none" stroke="#66ee66" stroke-width="0.45"/>
<path d="M49.60 306.86L50.85 309.23L48.35 309.23Z" fill="none" stroke="#66ee66" stroke-width="0.45"/>
<path d="M55.62 318.24L56.87 320.61L54.37 320.61Z" fill="none" stroke="#66ee66" stroke-width="0.45"/>
<path d="M61.64 326.10L62.89 328.48L60.39 328.48Z" fill="none" stroke="#66ee66" stroke-width="0.45"/>
<path d="M67.66 334.90L68.91 337.28L66.41 337.28Z" fill="none" stroke="#66ee66" stroke-width="0.45"/>
<path d="M73.68 340.94L74.93 343.32L72.43 343.32Z" fill="none" stroke="#66ee66" stroke-width="0.45"/>
<path d="M79.70 344.87L80.95 347.25L78.45 347.25Z" fill="none" stroke="#66ee66" stroke-width="0.45"/>
<path d="M85.72 347.63L86.97 350.01L84.47 350.01Z" fill="none" stroke="#66ee66" stroke-width="0.45"/>
<path d="M91.74 350.45L92.99 352.82L90.49 352.82Z" fill="none" stroke="#66ee66" stroke-width="0.45"/>
<path d="M97.76 352.79L99.01 355.17L96.51 355.17Z" fill="none" stroke="#66ee66" stroke-width="0.45"/>
<path d="M103.78 354.73L105.03 357.11L102.53 357.11Z" fill="none" stroke="#66ee66" stroke-width="0.45"/>
<path d="M109.80 356.02L111.05 358.40L108.55 358.40Z" fill="none" stroke="#66ee66" stroke-width="0.45"/>
<path d="M115.82 356.90L117.07 359.28L114.57 359.28Z" fill="none" stroke="#66ee66" stroke-width="0.45"/>
<path d="M121.84 357.78L123.09 360.16L120.59 360.16Z" fill="none" stroke="#66ee66" stroke-width="0.45"/>
<path d="M127.86 358.72L129.11 361.09L126.61 361.09Z" fill="none" stroke="#66ee66" stroke-width="0.45"/>
<path d="M133.88 359.31L135.13 361.68L132.63 361.68Z" fill="none" stroke="#66ee66" stroke-width="0.45"/>
<path d="M139.90 359.89L141.15 362.27L138.65 362.27Z" fill="none" stroke="#66ee66" stroke-width="0.45"/>
<path d="M145.92 359.98L147.17 362.36L144.67 362.36Z" fill="none" stroke="#66ee66" stroke-width="0.45"/>
<path d="M151.94 360.07L153.19 362.44L150.69 362.44Z" fill="none" stroke="#66ee66" stroke-width="0.45"/>
<path d="M157.96 360.16L159.21 362.53L156.71 362.53Z" fill="none" stroke="#66ee66" stroke-width="0.45"/>
<path d="M163.98 360.25L165.23 362.62L162.73 362.62Z" fill="none" stroke="#66ee66" stroke-width="0.45"/>
<path d="M170.00 360.31L171.25 362.69L168.75 362.69Z" fill="none" stroke="#66ee66" stroke-width="0.45"/>
<path d="M176.02 360.38L177.27 362.75L174.77 362.75Z" fill="none" stroke="#66ee66" stroke-width="0.45"/>
<path d="M182.04 360.44L183.29 362.82L180.79 362.82Z" fill="none" stroke="#66ee66" stroke-width="0.45"/>
<path d="M188.06 360.51L189.31 362.88L186.81 362.88Z" fill="none" stroke="#66ee66" stroke-width="0.45"/>
<path d="M194.08 360.57L195.33 362.95L192.83 362.95Z" fill="none" stroke="#66ee66" stroke-width="0.45"/>
<path d="M200.10 360.64L201.35 363.02L198.85 363.02Z" fill="none" stroke="#66ee66" stroke-width="0.45"/>
<path d="M206.12 360.71L207.37 363.08L204.87 363.08Z" fill="none" stroke="#66ee66" stroke-width="0.45"/>
<path d="M212.14 360.77L213.39 363.15L210.89 363.15Z" fill="none" stroke="#66ee66" stroke-width="0.45"/>
<path d="M218.16 360.82L219.41 363.19L216.91 363.19Z" fill="none" stroke="#66ee66" stroke-width="0.45"/>
<path d="M224.18 360.86L225.43 363.24L222.93 363.24Z" fill="none" stroke="#66ee66" stroke-width="0.45"/>
<path d="M230.20 360.90L231.45 363.28L228.95 363.28Z" fill="none" stroke="#66ee66" stroke-width="0.45"/>
<path d="M236.22 360.95L237.47 363.32L234.97 363.32Z" fill="none" stroke="#66ee66" stroke-width="0.45"/>
<path d="M242.24 360.99L243.49 363.37L240.99 363.37Z" fill="none" stroke="#66ee66" stroke-width="0.45"/>
<path d="M248.26 361.04L249.51 363.41L247.01 363.41Z" fill="none" stroke="#66ee66" stroke-width="0.45"/>
<path d="M254.28 361.08L255.53 363.46L253.03 363.46Z" fill="none" stroke="#66ee66" stroke-width="0.45"/>
<path d="M260.30 361.12L261.55 363.50L259.05 363.50Z" fill="none" stroke="#66ee66" stroke-width="0.45"/>
<path d="M266.32 361.17L267.57 363.54L265.07 363.54Z" fill="none" stroke="#66ee66" stroke-width="0.45"/>
<path d="M272.34 361.21L273.59 363.58L271.09 363.58Z" fill="none" stroke="#66ee66" stroke-width="0.45"/>
<path d="M278.36 361.25L279.61 363.62L277.11 363.62Z" fill="none" stroke="#66ee66" stroke-width="0.45"/>
<path d="M284.38 361.29L285.63 363.66L283.13 363.66Z" fill="none" stroke="#66ee66" stroke-width="0.45"/>
<path d="M290.40 361.33L291.65 363.71L289.15 363.71Z" fill="none" stroke="#66ee66" stroke-width="0.45"/>
<path d="M296.42 361.37L297.67 363.75L295.17 363.75Z" fill="none" stroke="#66ee66" stroke-width="0.45"/>
<path d="M302.44 361.41L303.69 363.79L301.19 363.79Z" fill="none" stroke="#66ee66" stroke-width="0.45"/>
<path d="M308.46 361.45L309.71 363.83L307.21 363.83Z" fill="none" stroke="#66ee66" stroke-width="0.45"/>
<path d="M314.48 361.49L315.73 363.87L313.23 363.87Z" fill="none" stroke="#66ee66" stroke-width="0.45"/>
<path d="M320.50 361.54L321.75 363.91L319.25 363.91Z" fill="none" stroke="#66ee66" stroke-width="0.45"/>
<rect x="215.5" y="209.0" width="104.50" height="36.00" fill="#fff"/>
<path d="M215.5 208.5V245.0H320.5" fill="none" stroke="#b4b4b4" stroke-width="1"/>
<line x1="217" y1="212.80" x2="224.8" y2="212.80" stroke="#909090" stroke-width="0.5"/>
<path d="M219.9 212.80H221.9M220.9 211.80V213.80" stroke="#909090" stroke-width="0.6"/>
<text x="226" y="214.60" class="lg">246ppf, OGLS, spatial regularisation only</text>
<line x1="217" y1="218.60" x2="224.8" y2="218.60" stroke="#505050" stroke-width="0.5"/>
<path d="M219.9 218.60H221.9M220.9 217.60V219.60" stroke="#505050" stroke-width="0.6"/>
<text x="226" y="220.40" class="lg">246ppf, OGLS, with temporal regularisation</text>
<line x1="217" y1="224.40" x2="224.8" y2="224.40" stroke="#ff8080" stroke-width="0.5"/>
<path d="M219.4 224.40L220.9 223.20L222.4 224.40L220.9 225.60Z" fill="none" stroke="#ff8080" stroke-width="0.5"/>
<text x="226" y="226.20" class="lg">31ppf, OGLS, spatial regularisation only</text>
<line x1="217" y1="230.20" x2="224.8" y2="230.20" stroke="#ff5050" stroke-width="0.5"/>
<circle cx="220.9" cy="230.20" r="0.9" fill="#ff5050" stroke="none"/>
<text x="226" y="232.00" class="lg">31ppf, OGLS, with temporal regularisation</text>
<line x1="217" y1="236.00" x2="224.8" y2="236.00" stroke="#80ff80" stroke-width="0.5"/>
<path d="M219.4 236.00L220.9 234.80L222.4 236.00L220.9 237.20Z" fill="none" stroke="#80ff80" stroke-width="0.5"/>
<text x="226" y="237.80" class="lg">8ppf, OGLS, spatial regularisation only</text>
<line x1="217" y1="241.80" x2="224.8" y2="241.80" stroke="#60f060" stroke-width="0.5"/>
<path d="M220.9 240.30L222.3 242.70L219.5 242.70Z" fill="none" stroke="#60f060" stroke-width="0.5"/>
<text x="226" y="243.60" class="lg">8ppf, OGLS, with temporal regularisation</text>
</svg>
</body></html>
